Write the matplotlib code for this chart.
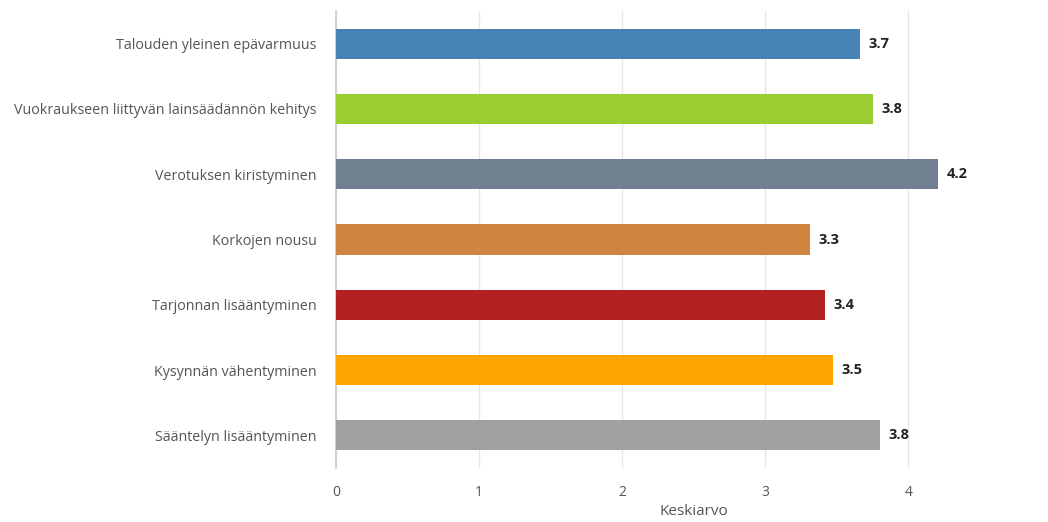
import numpy as np
import matplotlib
matplotlib.use('Agg')
import matplotlib.pyplot as plt

plt.rcParams['font.family'] = ['Open Sans', 'DejaVu Sans']

categories = ['Talouden yleinen epävarmuus',
              'Vuokraukseen liittyvän lainsäädännön kehitys',
              'Verotuksen kiristyminen',
              'Korkojen nousu',
              'Tarjonnan lisääntyminen',
              'Kysynnän vähentyminen',
              'Sääntelyn lisääntyminen']
keskiarvo = [3.66, 3.75, 4.21, 3.31, 3.42, 3.47, 3.80]
colors = ['steelblue', 'yellowgreen', 'slategray', 'peru',
          'firebrick', 'orange', '#a0a0a0']

fig = plt.figure(figsize=(10.48, 5.22), dpi=100)
# axes run a little past the right edge, so the last tick is cut off
ax = fig.add_axes([336/1048, 1 - 468/522, 715.5/1048, 457/522])

y = np.arange(len(categories))
bars = ax.barh(y, keskiarvo, height=0.46, color=colors, zorder=3)

for b, v in zip(bars, keskiarvo):
    ax.text(v + 0.06, b.get_y() + b.get_height() / 2, f'{v:.1f}',
            va='center', ha='left', fontsize=10.5, fontweight='bold',
            color='#222222', zorder=4)

ax.set_xlim(0, 5)
ax.set_ylim(len(categories) - 0.5, -0.5)
ax.set_yticks(y)
ax.set_yticklabels(categories, fontsize=10.3, color='#555555')
ax.set_xticks(np.arange(0, 6))
ax.tick_params(axis='x', length=0, pad=12, labelsize=10, labelcolor='#555555')
ax.tick_params(axis='y', length=0, pad=14)
ax.set_xlabel('Keskiarvo', fontsize=11, color='#555555', labelpad=3)

ax.grid(axis='x', color='#e6e6e6', linewidth=1, zorder=0)
for s in ['top', 'right', 'bottom']:
    ax.spines[s].set_visible(False)
ax.spines['left'].set_color('#cccccc')
ax.spines['left'].set_linewidth(1.2)

fig.savefig('out.png', dpi=100)
